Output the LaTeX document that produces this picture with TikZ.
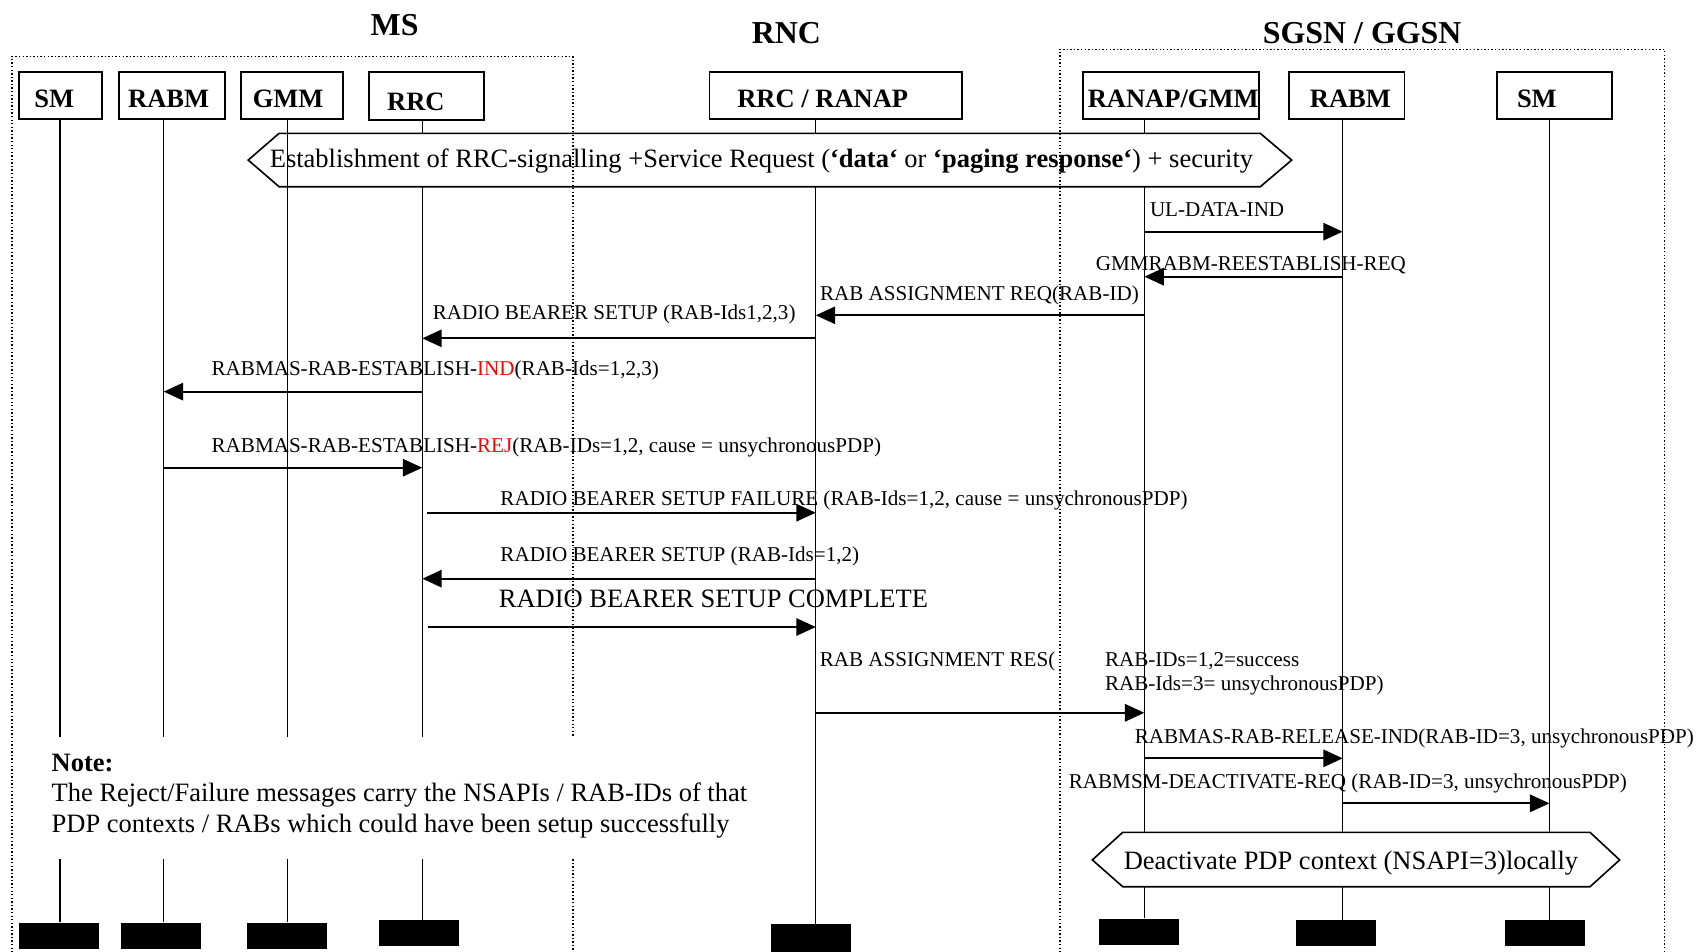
\documentclass[tikz,border=0pt]{standalone}
\usepackage{fontspec}
\setmainfont{Liberation Serif}
\usepackage{tikz}
\usetikzlibrary{arrows.meta}
\tikzset{%
   ent/.style={draw, line width=1.6pt, inner sep=0pt, minimum height=43.7pt},
   entl/.style={anchor=base west, inner sep=0pt, font=\fontsize{24.5}{28}\selectfont\bfseries},
   ttl/.style={anchor=base, inner sep=0pt, font=\fontsize{29.5}{34}\selectfont\bfseries},
   grp/.style={dotted, line width=1.3pt},
   life/.style={line width=1.3pt},
   msg/.style={line width=2pt, -{Triangle[length=18pt, width=16pt]}},
   lbl/.style={anchor=base west, inner sep=0pt, font=\fontsize{19.5}{23}\selectfont},
   big/.style={inner sep=0pt, font=\fontsize{24.5}{29}\selectfont},
   hexa/.style={draw, fill=white, line width=1.5pt},
   blk/.style={fill=black, inner sep=0pt, minimum width=74.2pt, minimum height=24pt},
}
\begin{document}
\begin{tikzpicture}[x=1pt, y=-1pt]
         \useasboundingbox (0,0) rectangle (1568,880);
         \node[ttl] (ms) at (364.8,32.4) {MS};
         \node[ttl] (rncT) at (727,40) {RNC};
         \node[ttl] (sgsn) at (1259.4,40) {SGSN / GGSN};
         \node[ent, minimum width=76.5pt] (smA) at (55.8,88.2) {};
         \node[ent, minimum width=98.3pt] (rabmA) at (158.9,88.2) {};
         \node[ent, minimum width=94.5pt] (gmmA) at (269.8,88.2) {};
         \node[ent, minimum width=106.2pt, minimum height=44.5pt] (rrcA) at (394.4,88.7) {};
         \node[ent, minimum width=233.6pt] (rncA) at (772.8,88.2) {};
         \node[ent, minimum width=162.9pt] (ranapA) at (1082.8,88.2) {};
         \node[ent, minimum width=106.7pt] (rabmnA) at (1245.2,88.2) {};
         \node[ent, minimum width=106.2pt] (smnA) at (1437.3,88.2) {};
         \node[entl] (smL) at (31.6,99.2) {SM};
         \node[entl] (rabmL) at (118.3,99.2) {RABM};
         \node[entl] (gmmL) at (233.5,99.2) {GMM};
         \node[entl] (rrcL) at (357.8,101.7) {RRC};
         \node[entl] (rncL) at (681.5,99.2) {RRC / RANAP};
         \node[entl] (ranapL) at (1005.5,99.2) {RANAP/GMM};
         \node[entl] (rabmnL) at (1210.8,99.2) {RABM};
         \node[entl] (smnL) at (1402.3,99.2) {SM};
         \coordinate (sm) at (55.6,110);
         \coordinate (rabm) at (151.3,110);
         \coordinate (gmm) at (266,110);
         \coordinate (rrc) at (390.4,111);
         \coordinate (rnc) at (754.2,110);
         \coordinate (ranap) at (1058,110);
         \coordinate (rabmn) at (1241.4,110);
         \coordinate (smn) at (1432.5,110);
         \node[blk] (endsm) at (54.6,865) {};
         \node[blk] (endrabm) at (148.9,865) {};
         \node[blk] (endgmm) at (265.4,865) {};
         \node[blk] (endrrc) at (387.7,862.8) {};
         \node[blk, minimum height=29.4pt] (endrnc) at (749.5,869.3) {};
         \node[blk] (endranap) at (1052.8,861.3) {};
         \node[blk] (endrabmn) at (1234.9,862.8) {};
         \node[blk] (endsmn) at (1428.3,862.8) {};
         \foreach \l in {sm,rabm,rrc,rnc,ranap,rabmn,smn}
            \draw[life] (\l) -- (\l |- end\l.north);
         \draw[hexa] (229.5,148) -- (258,123.3) -- (1165.2,123.3) -- (1194.2,148) -- (1165.2,172.6) -- (258,172.6) -- cycle;
         \node[big, anchor=base] (est) at (704,154.5) {Establishment of RRC-signalling +Service Request (\textbf{‘data‘} or \textbf{‘paging response‘}) + security};
         \draw[life] (gmm) -- (gmm |- endgmm.north);
         \draw[grp] (11,884) |- (529.7,52.4) -- (529.7,884);
         \draw[grp] (979.8,884) |- (1539,45.6) -- (1539,884);
         \fill[white] (15,681) rectangle (722,794);
         \node[big, anchor=base west, font=\fontsize{24.5}{29}\selectfont\bfseries] (note) at (47.6,713.5) {Note:};
         \node[big, anchor=base west] (note1) at (47.6,741.2) {The Reject/Failure messages carry the NSAPIs / RAB-IDs of that};
         \node[big, anchor=base west] (note2) at (47.6,769.9) {PDP contexts / RABs which could have been setup successfully};
         \draw[hexa] (1009.9,795) -- (1038,769.5) -- (1470,769.5) -- (1497.4,795) -- (1470,819.8) -- (1038,819.8) -- cycle;
         \node[big, anchor=base] (deact) at (1249,803.8) {Deactivate PDP context (NSAPI=3)locally};
         \foreach \n/\y in {1/214.2, 2/255.8, 3/291.5, 4/312.8, 5/362.1, 6/432.4, 7/474, 8/535, 9/579.7, 10/659, 11/701.1, 12/742.7}
            \coordinate (m\n) at (0,\y);
         \draw[msg] (ranap |- m1) -- (rabmn |- m1);
         \draw[msg] (rabmn |- m2) -- (ranap |- m2);
         \draw[msg] (ranap |- m3) -- (rnc |- m3);
         \draw[msg] (rnc |- m4) -- (rrc |- m4);
         \draw[msg] (rrc |- m5) -- (rabm |- m5);
         \draw[msg] (rabm |- m6) -- (rrc |- m6);
         \draw[msg, shorten <=4pt] (rrc |- m7) -- (rnc |- m7);
         \draw[msg] (rnc |- m8) -- (rrc |- m8);
         \draw[msg, shorten <=5pt] (rrc |- m9) -- (rnc |- m9);
         \draw[msg] (rnc |- m10) -- (ranap |- m10);
         \draw[msg] (ranap |- m11) -- (rabmn |- m11);
         \draw[msg] (rabmn |- m12) -- (smn |- m12);
         \node[lbl] (t1) at (1063,200.4) {UL-DATA-IND};
         \node[lbl] (t2) at (1013,249.7) {GMMRABM-REESTABLISH-REQ};
         \node[lbl] (t3) at (758,277.5) {RAB ASSIGNMENT REQ(RAB-ID)};
         \node[lbl] (t4) at (400,295) {RADIO BEARER SETUP (RAB-Ids1,2,3)};
         \node[lbl] (t5) at (195.5,347.4) {RABMAS-RAB-ESTABLISH-\textcolor{red}{IND}(RAB-Ids=1,2,3)};
         \node[lbl] (t6) at (195.5,418.3) {RABMAS-RAB-ESTABLISH-\textcolor{red}{REJ}(RAB-IDs=1,2, cause = unsychronousPDP)};
         \node[lbl] (t7) at (462.5,467.6) {RADIO BEARER SETUP FAILURE (RAB-Ids=1,2, cause = unsychronousPDP)};
         \node[lbl] (t8) at (462.5,519.4) {RADIO BEARER SETUP (RAB-Ids=1,2)};
         \node[lbl, font=\fontsize{24.5}{29}\selectfont] (t9) at (461,561.8) {RADIO BEARER SETUP COMPLETE};
         \node[lbl] (t10) at (757.7,616) {RAB ASSIGNMENT RES(};
         \node[lbl] (t10a) at (1021.4,616) {RAB-IDs=1,2=success};
         \node[lbl] (t10b) at (1021.4,638.8) {RAB-Ids=3= unsychronousPDP)};
         \node[lbl] (t11) at (1049,687.5) {RABMAS-RAB-RELEASE-IND(RAB-ID=3, unsychronousPDP)};
         \node[lbl] (t12) at (988,729) {RABMSM-DEACTIVATE-REQ (RAB-ID=3, unsychronousPDP)};
      \end{tikzpicture}
\end{document}
